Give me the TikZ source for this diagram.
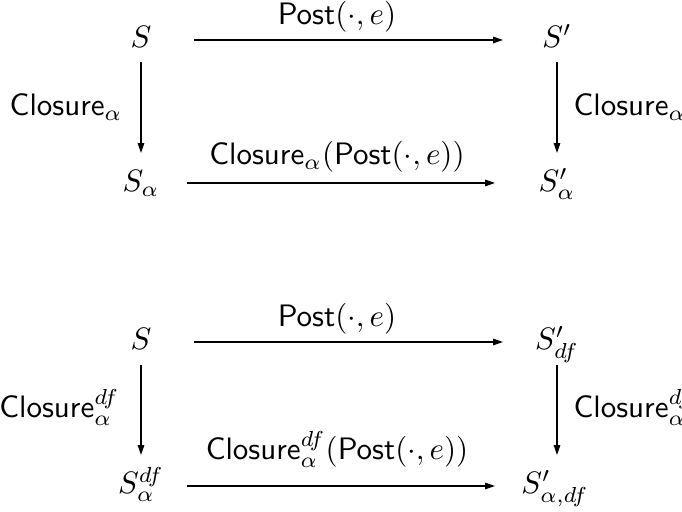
\documentclass[tikz,border=0pt]{standalone}
\usetikzlibrary{arrows.meta,calc}
\begin{document}
\begin{tikzpicture}[x=0.3226pt,y=-0.3226pt,
  obj/.style={inner sep=0pt,anchor=base},
  lbl/.style={inner sep=0pt},
  arr/.style={line width=0.4pt,-{Triangle[length=3.2pt,width=2.1pt]}}]
\useasboundingbox (0,0) rectangle (682,512);
% ---------- first square ----------
\node[obj] (S1) at (141,48) {$S$};
\node[obj] (Sp1) at (557,48) {$S'$};
\node[obj] (Sa1) at (141,192) {$S_\alpha$};
\node[obj] (Spa1) at (557,192) {$S'_\alpha$};
\node[lbl,anchor=base] (L1t) at (337,25) {$\mathsf{Post}(\cdot,e)$};
\node[lbl,anchor=base] (L1b) at (337,165) {$\mathsf{Closure}_\alpha(\mathsf{Post}(\cdot,e))$};
\node[lbl,anchor=base east] (L1l) at (123,116) {$\mathsf{Closure}_\alpha$};
\node[lbl,anchor=base west] (L1r) at (573,116) {$\mathsf{Closure}_\alpha$};
\draw[arr] ($(S1.base)+(53,-8)$) -- ($(Sp1.base)+(-54,-8)$);
\draw[arr] ($(Sa1.base)+(46,-9)$) -- ($(Spa1.base)+(-62,-9)$);
\draw[arr] ($(S1.base)+(0,14)$) -- ($(Sa1.base)+(0,-39)$);
\draw[arr] ($(Sp1.base)+(0,14)$) -- ($(Spa1.base)+(0,-39)$);
% ---------- second square ----------
\node[obj] (S2) at (141,350) {$S$};
\node[obj] (Sp2) at (557,350) {$S'_{df}$};
\node[obj] (Sa2) at (141,494) {$S^{df}_\alpha$};
\node[obj] (Spa2) at (555,494) {$S'_{\alpha,df}$};
\node[lbl,anchor=base] (L2t) at (337,327) {$\mathsf{Post}(\cdot,e)$};
\node[lbl,anchor=base] (L2b) at (337,460) {$\mathsf{Closure}^{df}_\alpha(\mathsf{Post}(\cdot,e))$};
\node[lbl,anchor=base east] (L2l) at (120,418) {$\mathsf{Closure}^{df}_\alpha$};
\node[lbl,anchor=base west] (L2r) at (573,418) {$\mathsf{Closure}^{df}_\alpha$};
\draw[arr] ($(S2.base)+(53,-8)$) -- ($(Sp2.base)+(-54,-8)$);
\draw[arr] ($(Sa2.base)+(46,-8)$) -- ($(Spa2.base)+(-60,-8)$);
\draw[arr] ($(S2.base)+(0,15)$) -- ($(Sa2.base)+(0,-39)$);
\draw[arr] ($(Sp2.base)+(0,15)$) -- ($(Spa2.base)+(2,-39)$);
\end{tikzpicture}
\end{document}
